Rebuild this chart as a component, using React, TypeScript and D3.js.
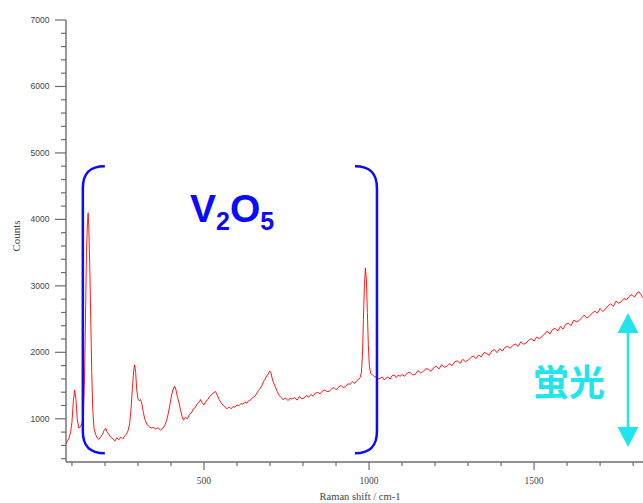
import React, { useEffect } from "react";
import * as d3 from "d3";

const ramanShift = [
  82, 86, 91, 96, 100, 104, 108, 112, 116, 121, 126, 131, 135, 138, 141, 144, 147, 149, 151, 154,
  157, 160, 163, 167, 172, 177, 182, 187, 192, 197, 202, 206, 212, 218, 224, 230, 236, 242, 248, 254,
  260, 265, 270, 275, 279, 283, 287, 290, 293, 296, 300, 304, 308, 312, 316, 321, 327, 333, 340, 347,
  354, 361, 368, 375, 381, 387, 392, 397, 402, 407, 411, 415, 419, 424, 429, 434, 438, 444, 450, 456,
  462, 468, 474, 480, 486, 490, 495, 500, 506, 512, 518, 524, 530, 535, 540, 546, 552, 558, 564, 570,
  576, 582, 588, 594, 600, 606, 612, 618, 624, 630, 636, 642, 648, 654, 660, 665, 670, 675, 680, 685,
  690, 695, 699, 703, 707, 711, 716, 722, 728, 734, 740, 747, 754, 761, 768, 775, 782, 789, 796, 803,
  810, 817, 824, 831, 838, 845, 852, 859, 866, 873, 880, 887, 894, 901, 908, 915, 922, 929, 936, 943,
  950, 957, 963, 968, 973, 977, 980, 983, 986, 989, 992, 995, 998, 1001, 1005, 1010, 1016, 1022, 1028, 1034,
  1040, 1046, 1052, 1058, 1064, 1070, 1076, 1082, 1088, 1094, 1100, 1108, 1116, 1124, 1132, 1140, 1148, 1156, 1164, 1172,
  1180, 1188, 1196, 1204, 1212, 1220, 1228, 1236, 1244, 1252, 1260, 1268, 1276, 1284, 1292, 1300, 1308, 1316, 1324, 1332,
  1340, 1348, 1356, 1364, 1372, 1380, 1388, 1396, 1404, 1412, 1420, 1428, 1436, 1444, 1452, 1460, 1468, 1476, 1484, 1492,
  1500, 1508, 1516, 1524, 1532, 1540, 1548, 1556, 1564, 1572, 1580, 1588, 1596, 1604, 1612, 1620, 1628, 1636, 1644, 1652,
  1660, 1668, 1676, 1684, 1692, 1700, 1708, 1716, 1724, 1732, 1740, 1748, 1756, 1764, 1772, 1780, 1788, 1796, 1804, 1812,
  1818, 1824, 1830,
];

const counts = [
  630, 660, 710, 800, 950, 1250, 1430, 1300, 1000, 860, 880, 940, 1100, 1600, 2500, 3500, 3950, 4100, 3900, 3300,
  2500, 1700, 1150, 850, 760, 710, 690, 730, 760, 820, 860, 810, 760, 720, 700, 665, 715, 685, 725, 695,
  745, 770, 820, 930, 1150, 1450, 1720, 1810, 1700, 1450, 1300, 1270, 1290, 1220, 1100, 990, 920, 885, 860, 870,
  845, 865, 830, 855, 900, 980, 1080, 1220, 1360, 1450, 1490, 1440, 1340, 1250, 1130, 1030, 980, 1020, 1000, 1065,
  1090, 1150, 1170, 1230, 1250, 1290, 1240, 1210, 1265, 1290, 1340, 1370, 1395, 1410, 1360, 1290, 1240, 1205, 1175, 1150,
  1180, 1150, 1185, 1175, 1210, 1195, 1230, 1220, 1255, 1235, 1275, 1285, 1325, 1335, 1385, 1425, 1455, 1495, 1555, 1595,
  1645, 1675, 1720, 1690, 1600, 1540, 1480, 1410, 1350, 1320, 1285, 1315, 1275, 1305, 1300, 1320, 1280, 1335, 1305, 1310,
  1350, 1325, 1365, 1340, 1390, 1395, 1375, 1420, 1430, 1410, 1415, 1455, 1470, 1435, 1480, 1500, 1470, 1485, 1525, 1520,
  1560, 1535, 1575, 1590, 1620, 1700, 1950, 2500, 3000, 3270, 3100, 2600, 2100, 1800, 1680, 1665, 1635, 1625, 1600, 1610,
  1630, 1585, 1615, 1630, 1595, 1650, 1660, 1620, 1655, 1640, 1665, 1640, 1690, 1700, 1660, 1670, 1725, 1690, 1710, 1755,
  1745, 1715, 1770, 1790, 1750, 1815, 1775, 1790, 1830, 1800, 1860, 1870, 1835, 1895, 1860, 1880, 1920, 1945, 1905, 1960,
  1930, 1995, 1985, 1955, 2020, 2040, 1995, 2055, 2020, 2075, 2090, 2060, 2105, 2125, 2090, 2160, 2120, 2140, 2185, 2205,
  2170, 2230, 2205, 2240, 2275, 2320, 2275, 2345, 2360, 2320, 2390, 2350, 2420, 2440, 2400, 2485, 2460, 2475, 2520, 2560,
  2515, 2545, 2590, 2620, 2590, 2660, 2615, 2650, 2700, 2730, 2690, 2770, 2740, 2760, 2810, 2790, 2840, 2870, 2830, 2895,
  2910, 2870, 2820,
];

const yMajorTicks = [1000, 2000, 3000, 4000, 5000, 6000, 7000];
const xMajorTicks = [500, 1000, 1500];
const yTitle = "Counts";
const xTitle = "Raman shift / cm-1";
const compoundLabel = ["V", "2", "O", "5"];
const fluorescenceLabel = "蛍光";

const W = 643;
const H = 503;

export default function App() {
  useEffect(() => {
    document.body.style.margin = "0";
  }, []);

  const x = d3.scaleLinear().domain([82, 1830]).range([66, 643]);
  const y = d3.scaleLinear().domain([350, 7000]).range([462, 20]);

  const yMinor = d3.range(400, 7001, 200).filter((v) => v % 1000 !== 0);
  const xMinor = d3.range(100, 1801, 100).filter((v) => v % 500 !== 0);

  const pts: [number, number][] = ramanShift.map((s, i) => [s, counts[i]]);
  const line = d3
    .line<[number, number]>()
    .x((d) => x(d[0]))
    .y((d) => y(d[1]));

  const axisColor = "#6e6e6e";
  const labelColor = "#444";
  const blue = "#0a0aff";
  const cyan = "#20e4ee";

  const bl = x(133);
  const br = x(1024);
  const bt = y(4800);
  const bb = y(480);
  const arm = 22;

  const leftBracket = `M${bl + arm},${bt} C${bl + 7},${bt} ${bl},${bt + 7} ${bl},${bt + 22} L${bl},${bb - 22} C${bl},${bb - 7} ${bl + 7},${bb} ${bl + arm},${bb}`;
  const rightBracket = `M${br - arm},${bt} C${br - 7},${bt} ${br},${bt + 7} ${br},${bt + 22} L${br},${bb - 22} C${br},${bb - 7} ${br - 7},${bb} ${br - arm},${bb}`;

  const ax = 628;
  const aTop = 313;
  const aBot = 447;
  const ah = 20;
  const aw = 10.5;

  return (
    <div style={{ position: "fixed", left: 0, top: 0 }}>
      <svg width={W} height={H} style={{ display: "block", background: "#fff" }}>
        <line x1={66} x2={66} y1={y(7000)} y2={462} stroke={axisColor} strokeWidth={1.4} />
        {yMajorTicks.map((t) => (
          <g key={"ym" + t}>
            <line x1={55} x2={66} y1={y(t)} y2={y(t)} stroke={axisColor} strokeWidth={1.2} />
            <text
              x={49.5}
              y={y(t)}
              dy="0.35em"
              textAnchor="end"
              fontFamily="Liberation Sans, Arial, sans-serif"
              fontSize={8.5}
              fill={labelColor}
            >
              {t}
            </text>
          </g>
        ))}
        {yMinor.map((t) => (
          <line key={"yn" + t} x1={61} x2={66} y1={y(t)} y2={y(t)} stroke={axisColor} strokeWidth={1.2} />
        ))}
        <text
          transform={`translate(20,236) rotate(-90)`}
          textAnchor="middle"
          fontFamily="Liberation Serif, Times New Roman, serif"
          fontSize={11}
          fill={labelColor}
        >
          {yTitle}
        </text>

        <line x1={66} x2={W} y1={462} y2={462} stroke={axisColor} strokeWidth={1.4} />
        {xMajorTicks.map((t) => (
          <g key={"xm" + t}>
            <line x1={x(t)} x2={x(t)} y1={462} y2={470} stroke={axisColor} strokeWidth={1.2} />
            <text
              x={x(t)}
              y={483.5}
              textAnchor="middle"
              fontFamily="Liberation Serif, Times New Roman, serif"
              fontSize={9.5}
              fill={labelColor}
            >
              {t}
            </text>
          </g>
        ))}
        {xMinor.map((t) => (
          <line key={"xn" + t} x1={x(t)} x2={x(t)} y1={462} y2={466} stroke={axisColor} strokeWidth={1.2} />
        ))}
        <text
          x={360}
          y={500}
          textAnchor="middle"
          fontFamily="Liberation Serif, Times New Roman, serif"
          fontSize={10.5}
          fill={labelColor}
        >
          {xTitle}
        </text>

        <path d={line(pts) || ""} fill="none" stroke="#ff0000" strokeWidth={0.9} strokeLinejoin="round" />

        <path d={leftBracket} fill="none" stroke={blue} strokeWidth={2.5} />
        <path d={rightBracket} fill="none" stroke={blue} strokeWidth={2.5} />

        <text x={190} y={222} fontFamily="Liberation Sans, Arial, sans-serif" fontWeight="bold" fontSize={39} fill={blue}>
          {compoundLabel[0]}
          <tspan fontSize={25} dy={8}>
            {compoundLabel[1]}
          </tspan>
          <tspan fontSize={39} dy={-8}>
            {compoundLabel[2]}
          </tspan>
          <tspan fontSize={25} dy={8}>
            {compoundLabel[3]}
          </tspan>
        </text>

        <text
          x={533}
          y={396}
          fontFamily="Noto Sans CJK JP, sans-serif"
          fontWeight="bold"
          fontSize={36}
          fill={cyan}
        >
          {fluorescenceLabel}
        </text>
        <line x1={ax} x2={ax} y1={aTop + ah - 2} y2={aBot - ah + 2} stroke={cyan} strokeWidth={2.4} />
        <path d={`M${ax},${aTop} L${ax + aw},${aTop + ah} L${ax - aw},${aTop + ah} Z`} fill={cyan} />
        <path d={`M${ax},${aBot} L${ax + aw},${aBot - ah} L${ax - aw},${aBot - ah} Z`} fill={cyan} />
      </svg>
    </div>
  );
}
